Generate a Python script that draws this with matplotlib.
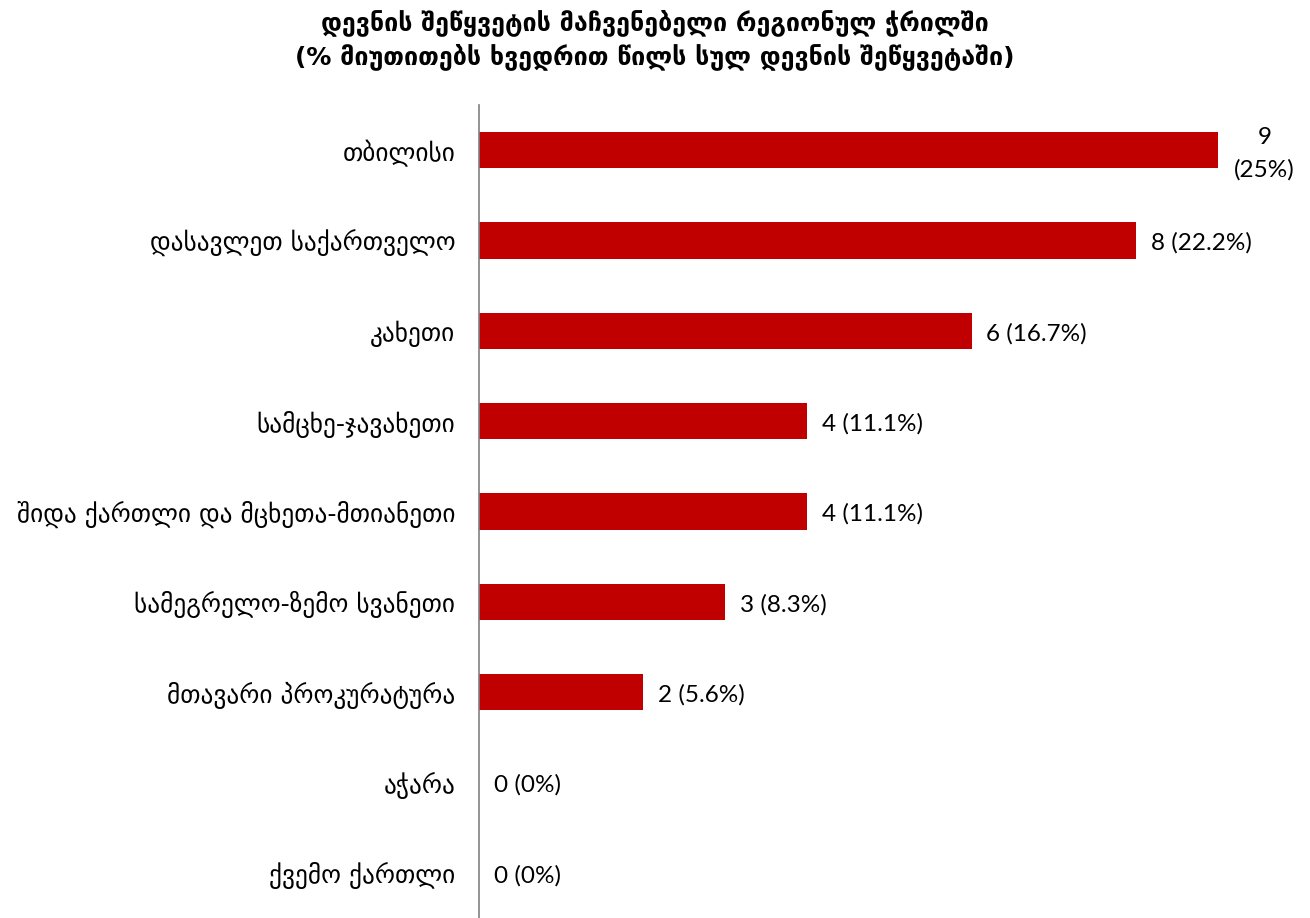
import matplotlib
matplotlib.use("Agg")
import matplotlib.pyplot as plt

categories = ["თბილისი", "დასავლეთ საქართველო", "კახეთი", "სამცხე-ჯავახეთი",
              "შიდა ქართლი და მცხეთა-მთიანეთი", "სამეგრელო-ზემო სვანეთი",
              "მთავარი პროკურატურა", "აჭარა", "ქვემო ქართლი"]
values = [9, 8, 6, 4, 4, 3, 2, 0, 0]
value_labels = ["9\n(25%)", "8 (22.2%)", "6 (16.7%)", "4 (11.1%)", "4 (11.1%)",
                "3 (8.3%)", "2 (5.6%)", "0 (0%)", "0 (0%)"]
title = "დევნის შეწყვეტის მაჩვენებელი რეგიონულ ჭრილში\n(% მიუთითებს ხვედრით წილს სულ დევნის შეწყვეტაში)"

plt.rcParams['font.family'] = ['DejaVu Sans']

fig = plt.figure(figsize=(13.1, 9.18), dpi=100)
ax = fig.add_axes([479/1310, 0, (1300-479)/1310, (918-105)/918])

y = list(range(len(categories)))
ax.barh(y, values, height=0.4, color="#c00000")
ax.set_ylim(len(categories)-0.5, -0.5)
ax.set_xlim(0, 10)
ax.set_yticks(y)
ax.set_yticklabels(categories, fontsize=18.2)
ax.tick_params(axis='y', length=0, pad=17)
ax.set_xticks([])
for s in ["top", "right", "bottom"]:
    ax.spines[s].set_visible(False)
ax.spines["left"].set_color("#808080")
ax.spines["left"].set_linewidth(1.2)

vfont = ['Lato', 'DejaVu Sans']
for i, (v, lab) in enumerate(zip(values, value_labels)):
    if "\n" in lab:
        ax.text(v + 0.57, i + 0.04, lab, va="center", ha="center", fontsize=17.5,
                linespacing=1.6, family=vfont)
    else:
        ax.text(v + 0.18, i + 0.03, lab, va="center", ha="left", fontsize=17.5, family=vfont)

fig.text(0.5, 0.99, title, ha="center", va="top", fontsize=18, fontweight="bold", linespacing=1.35)

fig.savefig("out.png", dpi=100)
